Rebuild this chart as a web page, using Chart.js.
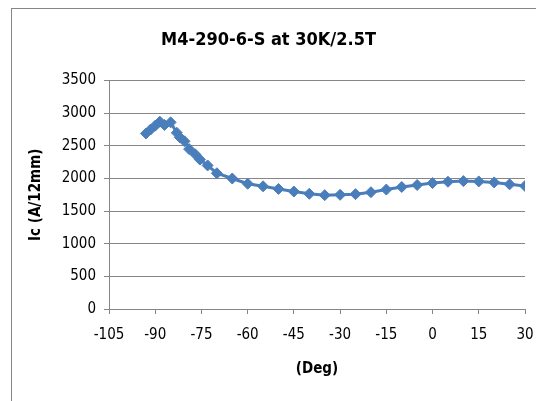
<!DOCTYPE html>
<html>
<head>
<meta charset="utf-8">
<script src="https://cdn.jsdelivr.net/npm/chart.js@4.4.1/dist/chart.umd.min.js"></script>
<style>
  html, body { margin: 0; padding: 0; background: #fff; overflow: hidden; }
  #box {
    position: absolute; left: 11px; top: 8px;
    width: 541px; height: 393px;
    border-left: 1px solid #868686; border-top: 1px solid #868686;
    box-sizing: border-box;
  }
</style>
</head>
<body>
<div id="box"><canvas id="icChart" width="540" height="392"></canvas></div>
<script>
// angle (deg) and critical current Ic (A/12mm)
const angles = [-93, -91.5, -90, -88.5, -87, -85, -83, -82, -80.5, -79, -77, -75.5, -73, -70,
                -65, -60, -55, -50, -45, -40, -35, -30, -25, -20, -15, -10, -5, 0, 5, 10, 15, 20, 25, 30];
const icValues = [2690, 2750, 2810, 2870, 2820, 2860, 2700, 2630, 2570, 2450, 2370, 2290, 2200, 2080,
                  2000, 1920, 1880, 1840, 1800, 1765, 1745, 1750, 1760, 1790, 1830, 1870, 1900, 1930, 1950, 1960, 1955, 1940, 1910, 1885];
const xTicks = [-105, -90, -75, -60, -45, -30, -15, 0, 15, 30];
const yTicks = [0, 500, 1000, 1500, 2000, 2500, 3000, 3500];

const chartTitle = 'M4-290-6-S at 30K/2.5T';
const xTitle = '(Deg)';
const yTitle = 'Ic (A/12mm)';

const FONT = "'DejaVu Sans Condensed', sans-serif";
const lineColor = '#4A7EBB';

let points = angles.map((a, i) => ({ x: a, y: icValues[i] }));

new Chart(document.getElementById('icChart'), {
    type: 'scatter',
    data: {
        datasets: [{
            data: points,
            showLine: true,
            borderColor: lineColor,
            backgroundColor: lineColor,
            borderWidth: 3,
            pointStyle: 'rectRot',
            pointRadius: 5.5,
            pointBorderWidth: 1,
            tension: 0
        }]
    },
    options: {
        responsive: false,
        animation: false,
        layout: { padding: { left: 0, right: 27, top: 0, bottom: 19 } },
        plugins: {
            legend: { display: false },
            tooltip: { enabled: false },
            title: {
                display: true,
                text: chartTitle,
                color: '#000',
                font: { family: FONT, size: 18, weight: 'bold' },
                padding: { top: 21, bottom: 29 }
            }
        },
        scales: {
            x: {
                type: 'linear',
                min: -105, max: 30,
                afterBuildTicks: s => { s.ticks = xTicks.map(v => ({ value: v })); },
                afterFit: s => { s.height = 73; },
                grid: { drawOnChartArea: false, drawTicks: true, tickLength: 5, color: '#868686' },
                border: { color: '#868686', width: 1 },
                ticks: { color: '#000', font: { family: FONT, size: 15 }, padding: 12, maxRotation: 0 },
                title: { display: true, text: xTitle, color: '#000', font: { family: FONT, size: 15, weight: 'bold' }, padding: { top: 6 } }
            },
            y: {
                min: 0, max: 3500,
                afterBuildTicks: s => { s.ticks = yTicks.map(v => ({ value: v })); },
                afterFit: s => { s.width = 97; },
                grid: { color: '#868686', tickLength: 5 },
                border: { color: '#868686', width: 1 },
                ticks: { color: '#000', font: { family: FONT, size: 15 }, padding: 8, callback: v => String(v) },
                title: { display: true, text: yTitle, color: '#000', font: { family: FONT, size: 15, weight: 'bold' }, padding: { top: 15 } }
            }
        }
    }
});
</script>
</body>
</html>
